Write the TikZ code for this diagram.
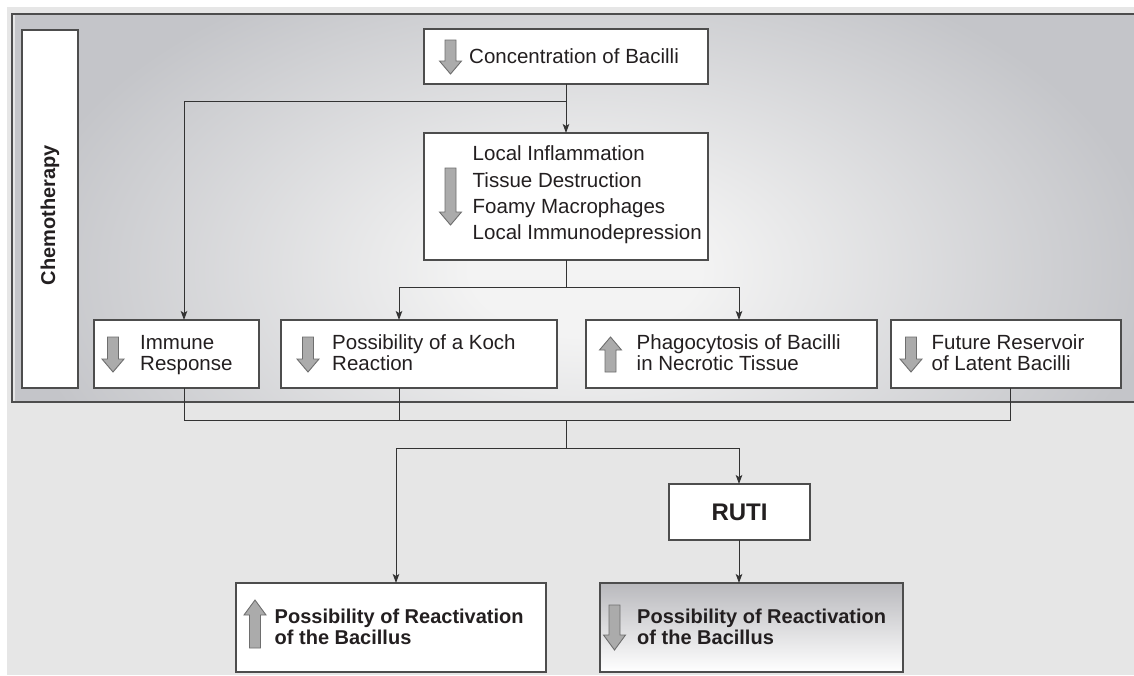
\documentclass[tikz,border=0pt]{standalone}
\usepackage{fontspec}
\setmainfont{Liberation Sans}
\usetikzlibrary{arrows.meta,calc}

\definecolor{pagegray}{HTML}{E6E6E6}
\definecolor{glowc}{HTML}{F3F3F3}
\definecolor{glowedge}{HTML}{C4C5C9}
\definecolor{framec}{HTML}{4D4D4D}
\definecolor{iconfill}{HTML}{ABABAB}
\definecolor{iconline}{HTML}{6E6E6E}
\definecolor{linec}{HTML}{333333}
\definecolor{shadetop}{HTML}{B9B9BD}
\definecolor{inkc}{HTML}{231F20}

% soft light spot behind the chemotherapy panel
\pgfdeclareradialshading{chemoglow}{\pgfpoint{0bp}{0bp}}{color(0bp)=(glowc); color(5bp)=(glowc); color(25bp)=(glowedge); color(50bp)=(glowedge)}

\tikzset{
  box/.style={draw=framec, line width=1.3pt, fill=white, inner sep=0pt, outer sep=0pt},
  shadedbox/.style={draw=framec, line width=1.3pt, top color=shadetop, bottom color=white, inner sep=0pt, outer sep=0pt},
  conn/.style={draw=linec, line width=1pt},
  arr/.style={conn, -{Stealth[length=9pt,width=6.5pt,inset=2pt]}},
  txt/.style={inner sep=0pt, anchor=base west, text=inkc, font=\fontsize{20.5}{21}\selectfont},
  btxt/.style={txt, font=\bfseries\fontsize{20}{21}\selectfont},
  icon/.style={fill=iconfill, draw=iconline, line width=0.9pt, line join=miter},
}

% block arrows: centre x, top y, bottom y, head length
\newcommand\icondown[4]{%
  \draw[icon] (#1-5.5,#2) -- (#1+5.5,#2) -- (#1+5.5,#3-#4) -- (#1+11,#3-#4)
    -- (#1,#3) -- (#1-11,#3-#4) -- (#1-5.5,#3-#4) -- cycle;}
\newcommand\iconup[4]{%
  \draw[icon] (#1-5.5,#3) -- (#1+5.5,#3) -- (#1+5.5,#2+#4) -- (#1+11,#2+#4)
    -- (#1,#2) -- (#1-11,#2+#4) -- (#1-5.5,#2+#4) -- cycle;}

\begin{document}
\begin{tikzpicture}[x=1pt,y=-1pt]
\useasboundingbox (0,0) rectangle (1134,675);
\fill[white] (0,0) rectangle (1134,675);
\fill[pagegray] (7,7) rectangle (1134,675);

% chemotherapy panel
\begin{scope}
  \clip (12,14) rectangle (1134,402);
  \shade[shading=chemoglow] (15,-60) rectangle (1155,600);
\end{scope}
\draw[framec, line width=1.3pt] (1134,14) -- (12,14) -- (12,402) -- (1134,402);

\node[box, minimum width=56, minimum height=358, anchor=north west] (chemo) at (22,30) {};
\node[rotate=90, inner sep=0pt, text=inkc, font=\bfseries\fontsize{20}{24}\selectfont] (chemo-t) at (50,215) {Chemotherapy};

% boxes
\node[box, minimum width=284, minimum height=55, anchor=north west] (conc) at (424,29) {};
\node[box, minimum width=284, minimum height=127, anchor=north west] (infl) at (424,133) {};
\node[box, minimum width=165, minimum height=68, anchor=north west] (imm) at (94,320) {};
\node[box, minimum width=276, minimum height=68, anchor=north west] (koch) at (281,320) {};
\node[box, minimum width=291, minimum height=68, anchor=north west] (phago) at (586,320) {};
\node[box, minimum width=230, minimum height=68, anchor=north west] (future) at (891,320) {};
\node[box, minimum width=141, minimum height=56, anchor=north west, text=inkc, font=\bfseries\fontsize{24}{28}\selectfont] (ruti) at (669,484) {RUTI};
\node[box, minimum width=310, minimum height=89, anchor=north west] (lowup) at (236,583) {};
\node[shadedbox, minimum width=303, minimum height=89, anchor=north west] (lowdown) at (600,583) {};

% labels
\node[txt] (conc-t) at (469,63) {Concentration of Bacilli};
\node[txt] (infl-t1) at (472.5,160.5) {Local Inflammation};
\node[txt] (infl-t2) at (472.5,187) {Tissue Destruction};
\node[txt] (infl-t3) at (472.5,213) {Foamy Macrophages};
\node[txt] (infl-t4) at (472.5,239) {Local Immunodepression};
\node[txt] (imm-t1) at (140,349) {Immune};
\node[txt] (imm-t2) at (140,370) {Response};
\node[txt] (koch-t1) at (332,349) {Possibility of a Koch};
\node[txt] (koch-t2) at (332,370) {Reaction};
\node[txt] (phago-t1) at (636.5,349) {Phagocytosis of Bacilli};
\node[txt] (phago-t2) at (636.5,370) {in Necrotic Tissue};
\node[txt] (future-t1) at (931.5,349) {Future Reservoir};
\node[txt] (future-t2) at (931.5,370) {of Latent Bacilli};
\node[btxt] (lowup-t1) at (274.5,623) {Possibility of Reactivation};
\node[btxt] (lowup-t2) at (274.5,644) {of the Bacillus};
\node[btxt] (lowdown-t1) at (637,623) {Possibility of Reactivation};
\node[btxt] (lowdown-t2) at (637,644) {of the Bacillus};

% up / down markers
\icondown{450.5}{40}{74}{13}
\icondown{450.5}{168}{225}{13}
\icondown{113}{337}{372}{13}
\icondown{308}{337}{372}{13}
\iconup{610.5}{337}{372}{13}
\icondown{911}{337}{372}{13}
\iconup{255}{600}{648}{15}
\icondown{614.5}{605}{650}{15}

% junction points
\coordinate (j1) at (566,101);
\coordinate (a1) at (184,101);
\coordinate (j2) at (566,287);
\coordinate (k1) at (399,287);
\coordinate (p1) at (739,287);
\coordinate (b1) at (184,420);
\coordinate (b2) at (399,420);
\coordinate (b3) at (1010,420);
\coordinate (b0) at (566,420);
\coordinate (j3) at (566,448);
\coordinate (l1) at (396,448);
\coordinate (r1) at (739,448);

% connectors
\draw[arr] (conc.south) -- (infl.north);
\draw[arr] (j1) -- (a1) -- (a1 |- imm.north);
\draw[conn] (infl.south) -- (j2);
\draw[conn] (k1) -- (p1);
\draw[arr] (k1) -- (k1 |- koch.north);
\draw[arr] (p1) -- (p1 |- phago.north);
\draw[conn] (b1 |- imm.south) -- (b1) -- (b3) -- (b3 |- future.south);
\draw[conn] (b2 |- koch.south) -- (b2);
\draw[conn] (b0) -- (j3);
\draw[conn] (l1) -- (r1);
\draw[arr] (l1) -- (l1 |- lowup.north);
\draw[arr] (r1) -- (r1 |- ruti.north);
\draw[arr] (r1 |- ruti.south) -- (r1 |- lowdown.north);
\end{tikzpicture}
\end{document}
